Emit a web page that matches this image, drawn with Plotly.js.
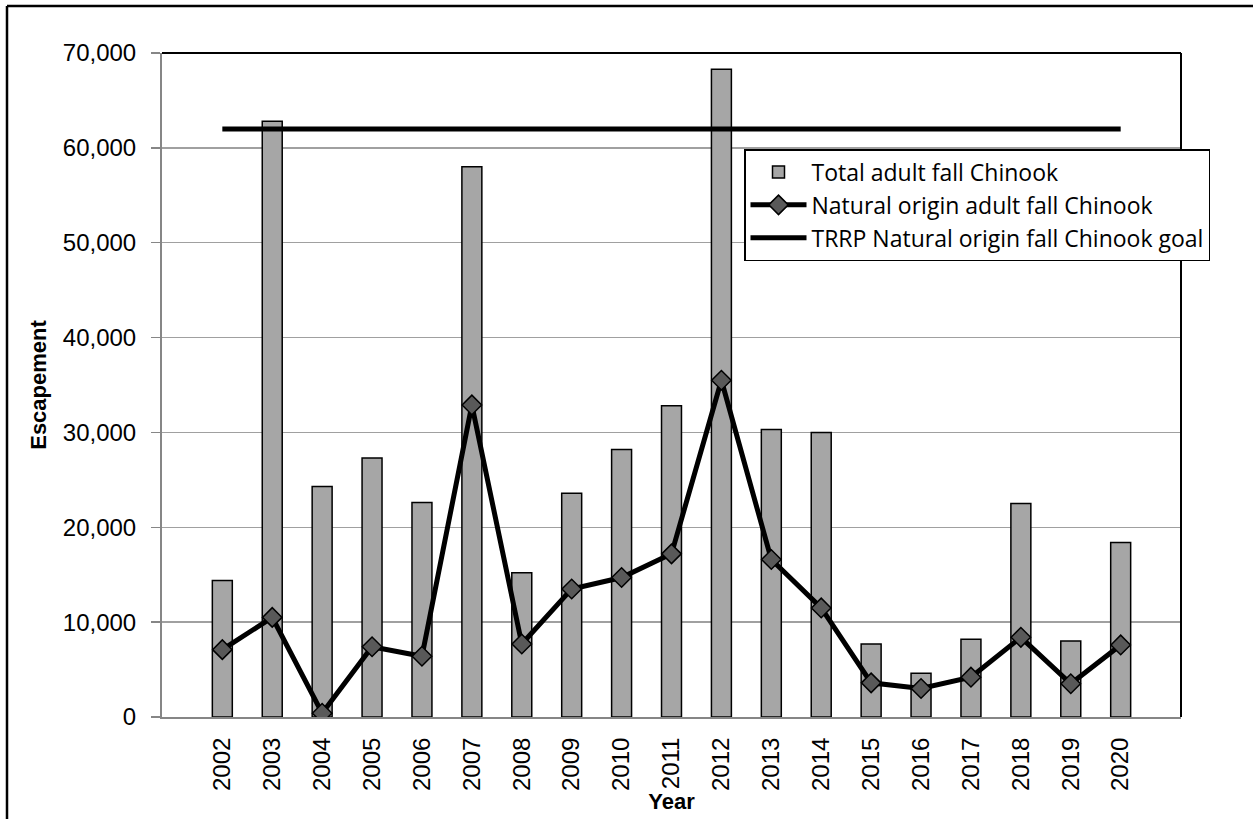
<!DOCTYPE html>
<html>
<head>
<meta charset="utf-8">
<script src="https://cdn.plot.ly/plotly-3.0.1.min.js"></script>
<style>html,body{margin:0;padding:0;background:#fff;}#chart{width:1253px;height:819px;}</style>
</head>
<body>
<div id="chart"></div>
<script>
const years = ['2002','2003','2004','2005','2006','2007','2008','2009','2010','2011','2012','2013','2014','2015','2016','2017','2018','2019','2020'];
const totalAdult = [14400, 62800, 24300, 27300, 22600, 58000, 15200, 23600, 28200, 32800, 68300, 30300, 30000, 7700, 4600, 8200, 22500, 8000, 18400];
const naturalAdult = [7100, 10500, 400, 7400, 6400, 32900, 7700, 13500, 14700, 17200, 35500, 16600, 11500, 3600, 3000, 4200, 8400, 3500, 7600];
const goalYears = ['2002', '2020'];
const goalValues = [62000, 62000];
const yTicks = [0, 10000, 20000, 30000, 40000, 50000, 60000, 70000];

const traces = [
  {
    type: 'bar', name: 'Total adult fall Chinook', x: years, y: totalAdult,
    marker: {color: '#a6a6a6', line: {color: '#000', width: 1.5}},
    legendgroup: 'a'
  },
  {
    type: 'scatter', mode: 'lines+markers', name: 'Natural origin adult fall Chinook',
    x: years, y: naturalAdult,
    line: {color: '#000', width: 5},
    marker: {symbol: 'diamond', size: 15, color: '#595959', line: {color: '#000', width: 1.5}},
    legendgroup: 'b'
  },
  {
    type: 'scatter', mode: 'lines', name: 'TRRP Natural origin fall Chinook goal',
    x: goalYears, y: goalValues,
    line: {color: '#000', width: 5},
    legendgroup: 'c'
  }
];

const L = 162, R = 1181, T = 53, B = 717, W = 1253, H = 819;
const px = v => (v - L) / (R - L);
const py = v => (B - v) / (B - T);

const layout = {
  width: W, height: H,
  margin: {l: L, r: W - R, t: T, b: H - B, pad: 0},
  paper_bgcolor: '#fff', plot_bgcolor: '#fff',
  font: {family: 'Liberation Sans, Arial, sans-serif', color: '#000', size: 24},
  showlegend: true,
  hovermode: false,
  bargap: 0.6,
  xaxis: {
    type: 'category', tickangle: -90,
    showline: true, linecolor: '#868686', linewidth: 2,
    ticks: '', showgrid: false,
    tickfont: {family: 'Liberation Sans, Arial, sans-serif', size: 24, color: '#000'},
    ticklabelstandoff: 9,
    title: {text: 'Year', font: {family: 'Liberation Sans, Arial, sans-serif', size: 22, color: '#000', weight: 'bold'}, standoff: 2}
  },
  yaxis: {
    range: [0, 70000], tickvals: yTicks, tickformat: ',d',
    showline: true, linecolor: '#868686', linewidth: 2,
    ticks: 'outside', ticklen: 9, tickcolor: '#868686', tickwidth: 1.5,
    showgrid: true, gridcolor: '#a0a0a0', gridwidth: 1.5, zeroline: false,
    tickfont: {family: 'Liberation Sans, Arial, sans-serif', size: 24, color: '#000'},
    ticklabelstandoff: 10,
    title: {text: 'Escapement', font: {family: 'Liberation Sans, Arial, sans-serif', size: 22, color: '#000', weight: 'bold'}, standoff: 10}
  },
  legend: {
    x: px(744), y: py(149), xanchor: 'left', yanchor: 'top',
    bgcolor: '#fff', bordercolor: '#000', borderwidth: 1.5,
    font: {family: 'Open Sans, sans-serif', size: 23, color: '#000'},
    traceorder: 'grouped', tracegroupgap: 0, itemwidth: 56
  },
  shapes: [
    {type: 'line', xref: 'paper', yref: 'paper', x0: 0, x1: 1, y0: 1, y1: 1, line: {color: '#000', width: 2}},
    {type: 'line', xref: 'paper', yref: 'paper', x0: 1, x1: 1, y0: 0, y1: 1, line: {color: '#000', width: 2}},
    {type: 'line', xref: 'paper', yref: 'paper', x0: px(7), x1: px(7), y0: py(H + 5), y1: py(6), line: {color: '#000', width: 2.5}},
    {type: 'line', xref: 'paper', yref: 'paper', x0: px(7), x1: px(W + 5), y0: py(6), y1: py(6), line: {color: '#000', width: 2.5}}
  ]
};

Plotly.newPlot('chart', traces, layout, {displayModeBar: false, staticPlot: true});
</script>
</body>
</html>
